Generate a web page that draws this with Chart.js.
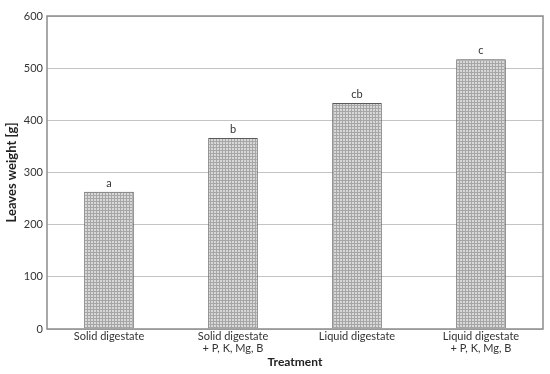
<!DOCTYPE html>
<html><head><meta charset="utf-8">
<script src="https://cdn.jsdelivr.net/npm/chart.js@4.4.0/dist/chart.umd.min.js"></script>
<style>html,body{margin:0;padding:0;background:#fff}#w{width:550px;height:374px}</style>
</head><body><div id="w"><canvas id="c" width="550" height="374"></canvas></div>
<script>
const categories = [["Solid digestate"], ["Solid digestate", "+ P, K, Mg, B"], ["Liquid digestate"], ["Liquid digestate", "+ P, K, Mg, B"]];
const leavesWeight = [263, 366, 433, 517];
const groupLetters = ["a", "b", "cb", "c"];
const yTicks = [0, 100, 200, 300, 400, 500, 600];

const FONT = "'Lato', 'Open Sans', sans-serif";

function makePattern() {
  const p = document.createElement('canvas');
  p.width = 3; p.height = 3;
  const g = p.getContext('2d');
  g.fillStyle = '#d8d8d8'; g.fillRect(0, 0, 3, 3);
  g.fillStyle = '#a6a6a6';
  g.fillRect(0, 0, 3, 1);
  g.fillRect(0, 0, 1, 3);
  return g.createPattern(p, 'repeat');
}

const boxPlugin = {
  id: 'box',
  afterDatasetsDraw(chart) {
    const {ctx, chartArea: a} = chart;
    ctx.save();
    ctx.strokeStyle = '#8c8c8c';
    ctx.lineWidth = 1.5;
    ctx.strokeRect(a.left, a.top, a.right - a.left, a.bottom - a.top);
    const meta = chart.getDatasetMeta(0);
    ctx.fillStyle = '#333';
    ctx.font = "11px " + FONT;
    ctx.textAlign = 'center';
    ctx.textBaseline = 'bottom';
    meta.data.forEach((bar, i) => {
      ctx.fillText(groupLetters[i], bar.x, bar.y - 3);
    });
    ctx.restore();
  }
};

new Chart(document.getElementById('c'), {
  type: 'bar',
  data: {
    labels: categories,
    datasets: [{
      data: leavesWeight,
      backgroundColor: makePattern(),
      borderColor: '#5a5a5a',
      borderWidth: 1,
      barPercentage: 0.8,
      categoryPercentage: 0.5
    }]
  },
  options: {
    responsive: false,
    animation: false,
    devicePixelRatio: 1,
    layout: {padding: {top: 16, right: 7, left: 4, bottom: 0}},
    plugins: {legend: {display: false}, tooltip: {enabled: false}},
    scales: {
      x: {
        grid: {display: false},
        border: {display: false},
        ticks: {color: '#333', font: {family: FONT, size: 11, lineHeight: 1.05}, padding: -6, maxRotation: 0},
        title: {display: true, text: 'Treatment', color: '#222', font: {family: FONT, size: 12, weight: 'bold'}, padding: {top: 0, bottom: 5}},
        afterFit(s) { s.height = 45; }
      },
      y: {
        min: 0, max: 600,
        afterBuildTicks(s) { s.ticks = yTicks.map(v => ({value: v})); },
        grid: {color: '#c4c4c4', lineWidth: 1, drawTicks: false},
        border: {display: false},
        ticks: {color: '#333', font: {family: FONT, size: 11}, padding: 4},
        title: {display: true, text: 'Leaves weight [g]', color: '#222', font: {family: FONT, size: 13, weight: 'bold'}, padding: {top: 0, bottom: 4}},
        afterFit(s) { s.width = 43; }
      }
    }
  },
  plugins: [boxPlugin]
});
</script>
</body></html>
